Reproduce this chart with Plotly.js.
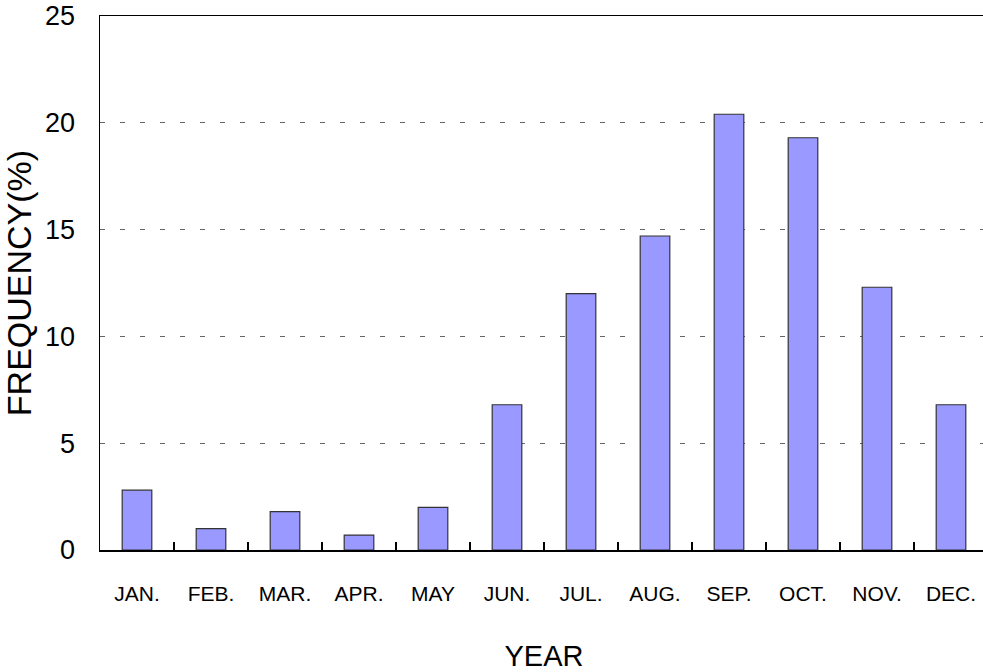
<!DOCTYPE html>
<html>
<head>
<meta charset="utf-8">
<script src="https://cdn.plot.ly/plotly-3.0.1.min.js"></script>
<style>
html,body{margin:0;padding:0;overflow:hidden;background:#fff;}
#chart{width:990px;height:672px;}
</style>
</head>
<body>
<div id="chart"></div>
<script>
const months = ["JAN.","FEB.","MAR.","APR.","MAY","JUN.","JUL.","AUG.","SEP.","OCT.","NOV.","DEC."];
const frequency = [2.8, 1.0, 1.8, 0.7, 2.0, 6.8, 12.0, 14.7, 20.4, 19.3, 12.3, 6.8];
const yTicks = [0, 5, 10, 15, 20, 25];

const trace = {
  type: "bar",
  x: months,
  y: frequency,
  width: 0.4,
  marker: {color: "#9999FF", line: {color: "#333333", width: 1.2}},
  hoverinfo: "x+y"
};

const layout = {
  width: 990,
  height: 672,
  margin: {l: 100, r: 2, t: 16, b: 122},
  paper_bgcolor: "#ffffff",
  plot_bgcolor: "#ffffff",
  showlegend: false,
  font: {family: "Liberation Sans, Arial, sans-serif", color: "#000"},
  xaxis: {
    type: "category",
    showline: true, linecolor: "#000", linewidth: 1.5, mirror: true,
    ticks: "inside", tickson: "boundaries", ticklen: 8, tickcolor: "#000", tickwidth: 1.2,
    tickfont: {size: 21, family: "Liberation Sans, Arial, sans-serif"},
    ticklabelstandoff: 24,
    showgrid: false, zeroline: false,
    title: {text: "YEAR", font: {size: 29}, standoff: 43},
    automargin: false
  },
  yaxis: {
    range: [0, 25],
    tickvals: yTicks,
    ticktext: yTicks.map(String),
    showline: true, linecolor: "#000", linewidth: 1.5,
    ticks: "",
    tickfont: {size: 27, family: "Liberation Sans, Arial, sans-serif"},
    ticklabelstandoff: 18,
    showgrid: true, gridcolor: "#666666", gridwidth: 1, griddash: "5px,15px",
    zeroline: false,
    title: {text: "FREQUENCY(%)", font: {size: 34}, standoff: 7},
    automargin: false
  }
};

Plotly.newPlot("chart", [trace], layout, {displayModeBar: false, staticPlot: true});
</script>
</body>
</html>
